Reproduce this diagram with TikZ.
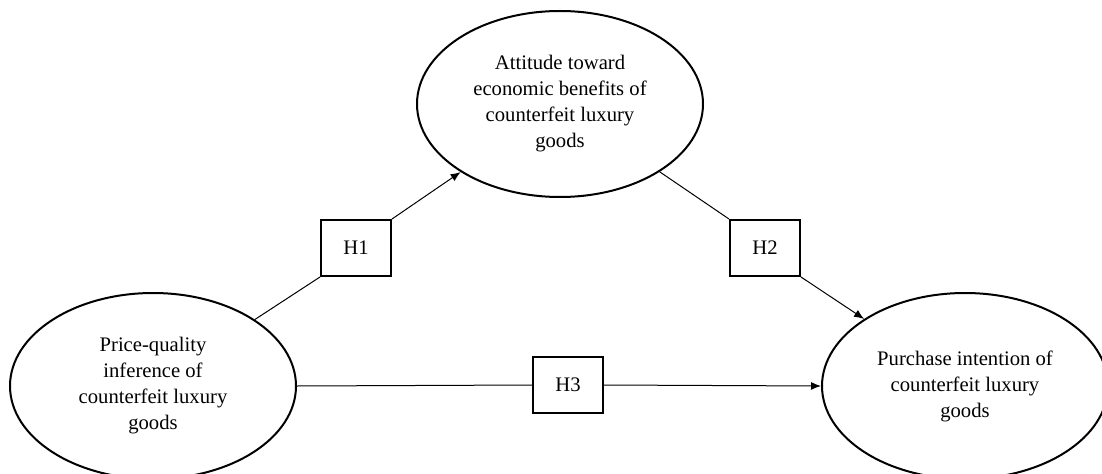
\documentclass[tikz,border=0pt]{standalone}
\usepackage{fontspec}
\setmainfont{Liberation Serif}
\usetikzlibrary{shapes.geometric,arrows.meta}

\tikzset{every picture/.style={line width=0.75pt}}
\tikzset{
  construct/.style={draw, ellipse, line width=1.5pt, minimum width=214.5pt, minimum height=139.5pt, inner sep=0pt, align=center, font=\fontsize{15.5}{19.5}\selectfont},
  hypobox/.style={draw, rectangle, line width=1.5pt, minimum width=52.5pt, minimum height=42pt, inner sep=0pt, font=\fontsize{15.5}{19.5}\selectfont},
  patharrow/.style={-{Latex[length=7.5pt,width=6pt]}}
}

\begin{document}
\begin{tikzpicture}[x=0.75pt,y=0.75pt,yscale=-1,xscale=1]
    \useasboundingbox (0,0) rectangle (1102,474);

    %Shape: Ellipse
    \node [construct] (pq) at (153,386) {Price-quality\\inference of\\counterfeit luxury\\goods};
    %Shape: Ellipse
    \node [construct] (att) at (560,104) {Attitude toward\\economic benefits of\\counterfeit luxury\\goods};
    %Shape: Ellipse
    \node [construct] (pi) at (965,386) {Purchase intention of\\counterfeit luxury\\goods};

    %Shape: Rectangle
    \node [hypobox] (h1) at (356,248) {H1};
    %Shape: Rectangle
    \node [hypobox] (h2) at (765,248) {H2};
    %Shape: Rectangle
    \node [hypobox] (h3) at (568,385) {H3};

    %Straight Lines
    \draw (pq) -- (h1.south west);
    \draw [patharrow] (h1.north east) -- (att);
    %Straight Lines
    \draw (att) -- (h2.north west);
    \draw [patharrow] (h2.south east) -- (pi);
    %Straight Lines
    \draw (pq.east) -- (h3.west);
    \draw [patharrow] (h3.east) -- (pi.west);

\end{tikzpicture}
\end{document}
